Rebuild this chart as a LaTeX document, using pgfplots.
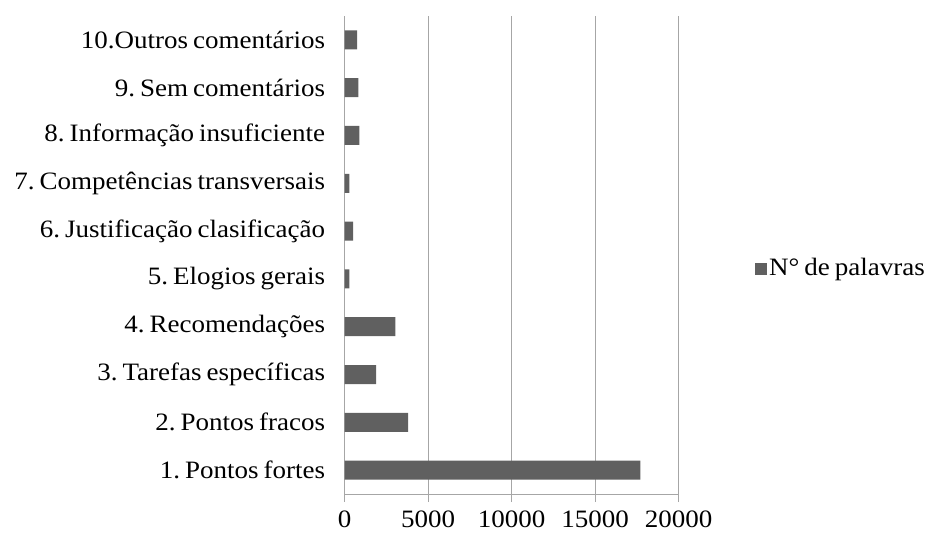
\documentclass[border=0pt]{standalone}
\usepackage{pgfplots}
\pgfplotsset{compat=1.18}
\usepackage{fontspec}
\setmainfont[WordSpace=0.75, FakeStretch=1.08]{Liberation Serif}
\frenchspacing
\definecolor{barfill}{HTML}{606060}
\definecolor{axisgray}{HTML}{A6A6A6}
\newcommand{\lblfont}{\fontsize{25}{25}\selectfont}
\begin{document}
\begin{tikzpicture}
\path[use as bounding box] (-344.7pt,-42pt) rectangle (586.3pt,494pt);
\begin{axis}[
  at={(0,0)}, anchor=south west,
  scale only axis, width=334pt, height=478pt,
  xbar, bar width=19pt,
  xmin=0, xmax=20000,
  ymin=0.5, ymax=10.5,
  axis x line*=bottom, axis y line*=left,
  axis line style={axisgray, line width=1pt},
  xtick={0,5000,10000,15000,20000},
  scaled x ticks=false,
  xticklabel style={font=\lblfont, inner sep=0pt, text depth=0pt, yshift=-9pt},
  /pgf/number format/assume math mode=true,
  /pgf/number format/set thousands separator={},
  xmajorgrids, major grid style={axisgray, line width=1pt},
  tick style={axisgray, line width=1pt},
  tick align=outside,
  major tick length=8pt,
  ytick={1,...,10},
  ytick style={draw=none},
  yticklabels={1. Pontos fortes, 2. Pontos fracos, 3. Tarefas específicas, 4. Recomendações, 5. Elogios gerais, 6. Justificação clasificação, 7. Competências transversais, 8. Informação insuficiente, 9. Sem comentários, 10.Outros comentários},
  yticklabel style={font=\lblfont, xshift=-8pt},
  minor ytick={0.5,1.5,...,10.5},
  minor tick length=8pt,
  minor y tick style={axisgray, line width=1pt},
  legend style={at={(1.228,0.473)}, anchor=west, draw=none, fill=none,
    font=\lblfont, inner sep=0pt},
  legend image code/.code={\fill[barfill] (0pt,-7pt) rectangle (12pt,5pt);},
  clip=false,
]
\addplot[fill=barfill, draw=none] coordinates {
  (17700,1) (3800,2) (1880,3) (3040,4) (280,5)
  (500,6) (280,7) (880,8) (820,9) (740,10)
};
\addlegendentry{N° de palavras}
\end{axis}
\end{tikzpicture}
\end{document}
